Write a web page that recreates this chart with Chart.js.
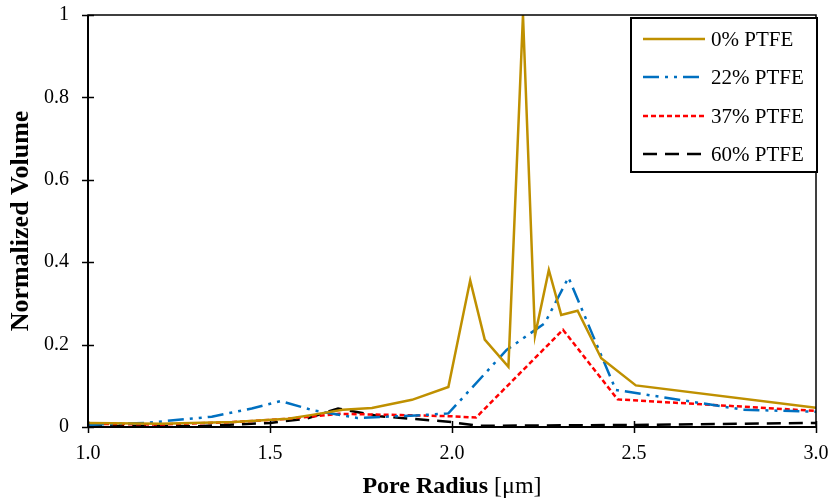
<!DOCTYPE html>
<html>
<head>
<meta charset="utf-8">
<title>Pore Radius Distribution</title>
<script src="https://cdn.jsdelivr.net/npm/chart.js@4.4.1/dist/chart.umd.min.js"></script>
<style>
    html, body { margin: 0; padding: 0; background: #ffffff; }
    #wrap { width: 830px; height: 502px; }
</style>
</head>
<body>
<div id="wrap"><canvas id="poreChart" width="830" height="502"></canvas></div>
<script>
// --- Data ---
const seriesLabels = ['0% PTFE', '22% PTFE', '37% PTFE', '60% PTFE'];

const radius0  = [1.00, 1.20, 1.40, 1.55, 1.62, 1.70, 1.78, 1.89, 1.99, 2.05, 2.09, 2.155, 2.195, 2.228, 2.266, 2.30, 2.345, 2.41, 2.505, 3.00];
const volume0  = [0.010, 0.008, 0.012, 0.020, 0.030, 0.042, 0.046, 0.066, 0.097, 0.356, 0.212, 0.146, 1.000, 0.222, 0.381, 0.272, 0.282, 0.167, 0.101, 0.047];

const radius22 = [1.00, 1.16, 1.34, 1.45, 1.53, 1.62, 1.74, 1.90, 1.99, 2.15, 2.255, 2.32, 2.45, 2.80, 3.00];
const volume22 = [0.005, 0.010, 0.025, 0.045, 0.063, 0.040, 0.022, 0.028, 0.033, 0.187, 0.252, 0.363, 0.090, 0.042, 0.037];

const radius37 = [1.00, 1.20, 1.40, 1.55, 1.69, 1.86, 2.00, 2.066, 2.305, 2.455, 3.00];
const volume37 = [0.008, 0.006, 0.012, 0.020, 0.032, 0.029, 0.026, 0.023, 0.236, 0.067, 0.039];

const radius60 = [1.00, 1.30, 1.50, 1.60, 1.687, 1.80, 1.99, 2.07, 2.50, 3.00];
const volume60 = [0.003, 0.002, 0.010, 0.020, 0.045, 0.026, 0.013, 0.003, 0.005, 0.010];

const xTicks = [1.0, 1.5, 2.0, 2.5, 3.0];
const yTicks = [0, 0.2, 0.4, 0.6, 0.8, 1];

// --- Styles ---
const colors = ['#BF9000', '#0070C0', '#FF0000', '#000000'];
const dashes = [[], [16, 6, 3, 6, 3, 6], [5, 3], [14, 8]];
const serif = '"Liberation Serif", "Times New Roman", serif';

function toPoints(xs, ys) {
    return xs.map((x, i) => ({ x: x, y: ys[i] }));
}

const seriesData = [
    toPoints(radius0, volume0),
    toPoints(radius22, volume22),
    toPoints(radius37, volume37),
    toPoints(radius60, volume60)
];

// keep tick labels from pushing the plot area around
function fixScale(scale, size) {
    if (scale.isHorizontal()) {
        scale.height = size;
    } else {
        scale.width = size;
    }
    scale.paddingLeft = 0;
    scale.paddingRight = 0;
    scale.paddingTop = 0;
    scale.paddingBottom = 0;
}

// --- Frame, cross ticks, axis titles and boxed legend ---
const framePlugin = {
    id: 'frame',
    afterDatasetsDraw(chart) {
        const ctx = chart.ctx;
        const area = chart.chartArea;
        const xs = chart.scales.x;
        const ys = chart.scales.y;
        ctx.save();
        ctx.strokeStyle = '#000';
        ctx.setLineDash([]);

        // plot frame
        ctx.lineWidth = 1.5;
        ctx.strokeRect(area.left, area.top, area.right - area.left, area.bottom - area.top);
        ctx.lineWidth = 2;
        ctx.beginPath();
        ctx.moveTo(area.left, area.top);
        ctx.lineTo(area.left, area.bottom);
        ctx.lineTo(area.right, area.bottom);
        ctx.stroke();

        // ticks crossing the axes
        ctx.lineWidth = 1.5;
        yTicks.forEach(v => {
            const py = Math.round(ys.getPixelForValue(v)) + 0.5;
            ctx.beginPath();
            ctx.moveTo(area.left - 6, py);
            ctx.lineTo(area.left + 6, py);
            ctx.stroke();
        });
        xTicks.forEach(v => {
            const px = Math.round(xs.getPixelForValue(v)) + 0.5;
            ctx.beginPath();
            ctx.moveTo(px, area.bottom - 6);
            ctx.lineTo(px, area.bottom + 6);
            ctx.stroke();
        });

        // axis titles
        ctx.fillStyle = '#000';
        ctx.textBaseline = 'alphabetic';
        const partA = 'Pore Radius ';
        const partB = '[\u03BCm]';
        ctx.font = 'bold 24px ' + serif;
        const wA = ctx.measureText(partA).width;
        ctx.font = '24px ' + serif;
        const wB = ctx.measureText(partB).width;
        const tx = (area.left + area.right) / 2 - (wA + wB) / 2;
        ctx.textAlign = 'left';
        ctx.font = 'bold 24px ' + serif;
        ctx.fillText(partA, tx, 493);
        ctx.font = '24px ' + serif;
        ctx.fillText(partB, tx + wA, 493);

        ctx.save();
        ctx.translate(28, (area.top + area.bottom) / 2);
        ctx.rotate(-Math.PI / 2);
        ctx.textAlign = 'center';
        ctx.font = 'bold 26px ' + serif;
        ctx.fillText('Normalized Volume', 0, 0);
        ctx.restore();

        // legend box
        ctx.textBaseline = 'middle';
        const box = { left: 631, top: 18, right: 817, bottom: 172 };
        ctx.fillStyle = '#fff';
        ctx.fillRect(box.left, box.top, box.right - box.left, box.bottom - box.top);
        ctx.lineWidth = 2;
        ctx.strokeRect(box.left, box.top, box.right - box.left, box.bottom - box.top);
        const rows = [39, 77, 116, 154];
        chart.data.datasets.forEach((ds, i) => {
            ctx.strokeStyle = ds.borderColor;
            ctx.lineWidth = ds.borderWidth;
            ctx.setLineDash(ds.borderDash || []);
            ctx.beginPath();
            ctx.moveTo(643, rows[i]);
            ctx.lineTo(705, rows[i]);
            ctx.stroke();
            ctx.setLineDash([]);
            ctx.fillStyle = '#000';
            ctx.font = '21px ' + serif;
            ctx.textAlign = 'left';
            ctx.fillText(ds.label, 711, rows[i] + 1);
        });
        ctx.restore();
    }
};

// --- Chart ---
const ctx = document.getElementById('poreChart').getContext('2d');
new Chart(ctx, {
    type: 'line',
    data: {
        datasets: seriesLabels.map((label, i) => ({
            label: label,
            data: seriesData[i],
            borderColor: colors[i],
            borderWidth: 2.5,
            borderDash: dashes[i],
            pointRadius: 0,
            tension: 0,
            fill: false
        }))
    },
    options: {
        responsive: false,
        animation: false,
        devicePixelRatio: 1,
        layout: { padding: { top: 15, right: 14, left: 0, bottom: 0 } },
        scales: {
            x: {
                type: 'linear',
                min: 1,
                max: 3,
                afterBuildTicks: scale => { scale.ticks = xTicks.map(v => ({ value: v })); },
                afterFit: scale => fixScale(scale, 75),
                grid: { display: false, drawTicks: false },
                border: { display: false },
                ticks: {
                    padding: 15,
                    color: '#000',
                    font: { family: serif, size: 20 },
                    callback: v => v.toFixed(1)
                }
            },
            y: {
                min: 0,
                max: 1,
                afterBuildTicks: scale => { scale.ticks = yTicks.map(v => ({ value: v })); },
                afterFit: scale => fixScale(scale, 88),
                grid: { display: false, drawTicks: false },
                border: { display: false },
                ticks: {
                    padding: 19,
                    color: '#000',
                    font: { family: serif, size: 20 },
                    callback: v => String(v)
                }
            }
        },
        plugins: {
            legend: { display: false },
            tooltip: { enabled: false }
        }
    },
    plugins: [framePlugin]
});
</script>
</body>
</html>
